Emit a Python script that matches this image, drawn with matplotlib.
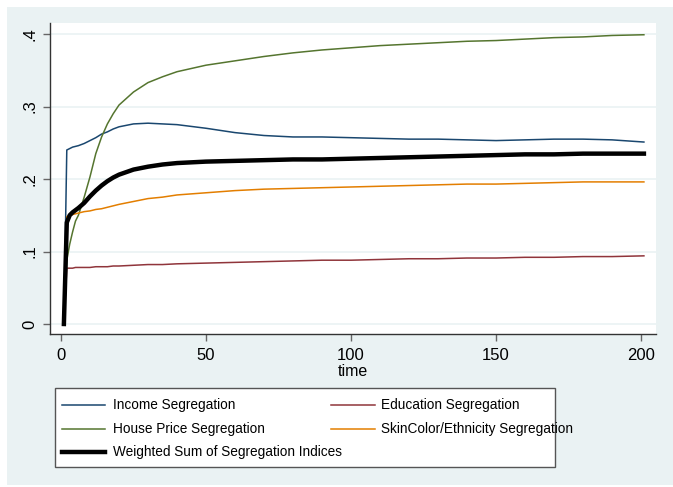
import matplotlib
matplotlib.use("Agg")
import matplotlib.pyplot as plt
from matplotlib.patches import Rectangle
from matplotlib.lines import Line2D

plt.rcParams['font.family'] = ['Liberation Sans', 'DejaVu Sans']

W, H = 673, 487

# time steps
time = [1, 2, 3, 4, 5, 6, 8, 10, 12, 14, 16, 18, 20, 25, 30, 35, 40, 50, 60, 70,
        80, 90, 100, 110, 120, 130, 140, 150, 160, 170, 180, 190, 201]

income = [0, 0.240, 0.242, 0.244, 0.245, 0.246, 0.249, 0.253, 0.257, 0.262, 0.265,
          0.269, 0.272, 0.276, 0.277, 0.276, 0.275, 0.270, 0.264, 0.260, 0.258,
          0.258, 0.257, 0.256, 0.255, 0.255, 0.254, 0.253, 0.254, 0.255, 0.255,
          0.254, 0.251]
education = [0, 0.077, 0.077, 0.077, 0.078, 0.078, 0.078, 0.078, 0.079, 0.079, 0.079,
             0.080, 0.080, 0.081, 0.082, 0.082, 0.083, 0.084, 0.085, 0.086, 0.087,
             0.088, 0.088, 0.089, 0.090, 0.090, 0.091, 0.091, 0.092, 0.092, 0.093,
             0.093, 0.094]
house = [0, 0.088, 0.110, 0.127, 0.142, 0.150, 0.175, 0.203, 0.235, 0.258, 0.276,
         0.290, 0.302, 0.320, 0.333, 0.341, 0.348, 0.357, 0.363, 0.369, 0.374,
         0.378, 0.381, 0.384, 0.386, 0.388, 0.390, 0.391, 0.393, 0.395, 0.396,
         0.398, 0.399]
skin = [0, 0.148, 0.150, 0.151, 0.152, 0.153, 0.155, 0.156, 0.158, 0.159, 0.161,
        0.163, 0.165, 0.169, 0.173, 0.175, 0.178, 0.181, 0.184, 0.186, 0.187,
        0.188, 0.189, 0.190, 0.191, 0.192, 0.193, 0.193, 0.194, 0.195, 0.196,
        0.196, 0.196]
weighted = [0, 0.140, 0.150, 0.154, 0.157, 0.160, 0.167, 0.176, 0.184, 0.191, 0.197,
            0.202, 0.206, 0.213, 0.217, 0.220, 0.222, 0.224, 0.225, 0.226, 0.227,
            0.227, 0.228, 0.229, 0.230, 0.231, 0.232, 0.233, 0.234, 0.234, 0.235,
            0.235, 0.235]

labels = ["Income Segregation", "Education Segregation", "House Price Segregation",
          "SkinColor/Ethnicity Segregation", "Weighted Sum of Segregation Indices"]
colors = ["#1a476f", "#90353b", "#55752f", "#e37e00", "#000000"]
widths = [1.1, 1.1, 1.1, 1.1, 3.2]

xticks = [0, 50, 100, 150, 200]
yticks = [0, 0.1, 0.2, 0.3, 0.4]
yticklabels = ["0", ".1", ".2", ".3", ".4"]

BG = "#eaf2f3"


def fx(px):
    return px / W


def fy(py):
    return 1 - py / H


fig = plt.figure(figsize=(W / 100, H / 100), dpi=100, facecolor="white")
# stata style graph region
fig.add_artist(Rectangle((fx(7), fy(485)), fx(666), (478) / H,
                         transform=fig.transFigure, facecolor=BG,
                         edgecolor="none", zorder=0))

ax = fig.add_axes([fx(50), fy(334), fx(606), 311 / H])
ax.set_facecolor("white")
ax.set_zorder(1)

series = [income, education, house, skin, weighted]
for vals, c, lw in zip(series, colors, widths):
    ax.plot(time, vals, color=c, lw=lw, solid_joinstyle="round")

ax.set_xlim(-3.79, 205.17)
ax.set_ylim(-0.0138, 0.4152)
ax.set_xticks(xticks)
ax.set_xticklabels([str(x) for x in xticks])
ax.set_yticks(yticks)
ax.set_yticklabels(yticklabels, rotation=90, va="center")
ax.grid(axis="y", color=BG, lw=1.2)
ax.set_axisbelow(True)

for s in ["top", "right"]:
    ax.spines[s].set_visible(False)
for s in ["left", "bottom"]:
    ax.spines[s].set_color("#333333")
    ax.spines[s].set_linewidth(1.0)
ax.tick_params(axis="both", length=5, width=1, color="#666666",
               labelsize=12, labelcolor="black")
ax.tick_params(axis="x", pad=5)
ax.tick_params(axis="y", pad=4)
ax.set_xlabel("time", fontsize=11.5, labelpad=1)

# legend box drawn by hand (text runs past the frame as in the original)
fig.add_artist(Rectangle((fx(55), fy(467)), fx(500), 79 / H,
                         transform=fig.transFigure, facecolor="white",
                         edgecolor="#555555", lw=1.0, zorder=2))
slots = [(62, 105, 113, 405), (331, 375, 381, 405),
         (62, 105, 113, 429), (331, 375, 381, 429),
         (62, 105, 113, 452)]
for (x0, x1, xt, yy), lab, c, lw in zip(slots, labels, colors, widths):
    fig.add_artist(Line2D([fx(x0), fx(x1)], [fy(yy), fy(yy)],
                          transform=fig.transFigure, color=c, lw=lw, zorder=3))
    fig.text(fx(xt), fy(yy), lab, fontsize=9.8, va="center", ha="left",
             zorder=4)

fig.savefig("out.png", dpi=100, facecolor="white")
